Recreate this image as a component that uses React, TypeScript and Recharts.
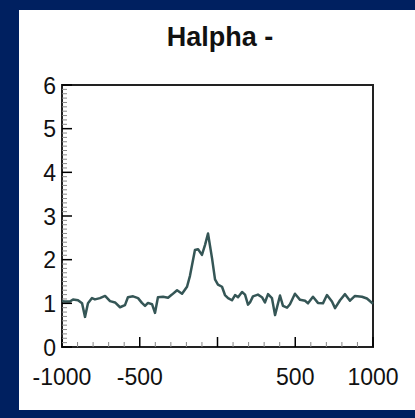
import React from 'react';
import { LineChart, Line, XAxis, YAxis, ReferenceArea } from 'recharts';

// velocity (km/s) and relative flux
const velocity = [
  -1000, -981, -949, -929, -897, -871, -852, -833, -807, -788, -756, -723, -691, -659, -627, -595,
  -576, -543, -511, -486, -466, -447, -421, -402, -383, -350, -318, -293, -260, -228, -196, -177,
  -145, -125, -100, -80, -61, -35, -16, 3, 29, 48, 68, 93, 113, 132, 158, 177, 196, 209, 228, 260,
  286, 305, 325, 350, 370, 402, 421, 447, 466, 498, 531, 563, 582, 614, 646, 678, 704, 736, 756,
  788, 820, 852, 884, 929, 961, 1000,
];
const flux = [
  1.05, 1.04, 1.04, 1.09, 1.07, 1.0, 0.69, 1.0, 1.12, 1.09, 1.12, 1.17, 1.05, 1.02, 0.91, 0.96,
  1.14, 1.16, 1.12, 1.01, 0.94, 1.01, 0.98, 0.78, 1.14, 1.15, 1.13, 1.2, 1.3, 1.22, 1.38, 1.63,
  2.22, 2.24, 2.11, 2.34, 2.6, 2.03, 1.55, 1.43, 1.38, 1.19, 1.12, 1.07, 1.19, 1.14, 1.26, 1.2,
  0.97, 1.02, 1.16, 1.2, 1.14, 1.02, 1.21, 1.12, 0.73, 1.18, 0.94, 0.9, 0.98, 1.22, 1.08, 1.06,
  1.0, 1.15, 1.01, 1.0, 1.19, 1.04, 0.89, 1.07, 1.21, 1.06, 1.17, 1.15, 1.11, 0.99,
];

const xTicks = Array.from({ length: 21 }, (_, i) => -1000 + i * 100);
const xLabels = [-1000, -500, 500, 1000];
const yTicks = Array.from({ length: 61 }, (_, i) => i / 10);
const yLabels = [0, 1, 2, 3, 4, 5, 6];

const rows = velocity.map((v, i) => ({ v, f: flux[i] }));

const font = '"Liberation Sans", Arial, sans-serif';

const XTick = (props: any) => {
  const { x, y, payload } = props;
  const val = payload.value;
  const major = val % 500 === 0;
  return (
    <g>
      <line x1={x} x2={x} y1={y} y2={y - (major ? 10 : 5)} stroke={major ? '#000' : '#888'} strokeWidth={major ? 1.5 : 1} />
      {xLabels.includes(val) && (
        <text x={x} y={y + 38} textAnchor="middle" fontSize={23} fontFamily={font} fill="#111">
          {val}
        </text>
      )}
    </g>
  );
};

const YTick = (props: any) => {
  const { x, y, payload } = props;
  const val = payload.value;
  const major = Math.abs(val - Math.round(val)) < 1e-6;
  return (
    <g>
      <line x1={x} x2={x + (major ? 10 : 5)} y1={y} y2={y} stroke={major ? '#000' : '#888'} strokeWidth={major ? 1.5 : 1} />
      {major && yLabels.includes(Math.round(val)) && (
        <text x={x - 6} y={y + 8.5} textAnchor="end" fontSize={23} fontFamily={font} fill="#111">
          {Math.round(val)}
        </text>
      )}
    </g>
  );
};

export default function App() {
  return (
    <div style={{ position: 'absolute', left: 0, top: 0, width: 415, height: 418, background: '#002060' }}>
      <div style={{ position: 'absolute', left: 19, top: 10, width: 396, height: 400, background: '#fff' }}>
        <div
          style={{
            position: 'absolute', left: 0, top: 14, width: 402, textAlign: 'center',
            fontFamily: font, fontWeight: 'bold', fontSize: 27, lineHeight: '27px', color: '#111',
          }}
        >
          Halpha -
        </div>
        <LineChart width={396} height={400} data={rows} margin={{ top: 75, right: 42, bottom: 0, left: 0 }}>
          <XAxis
            dataKey="v" type="number" domain={[-1000, 1000]} ticks={xTicks} interval={0}
            axisLine={false} tickLine={false} tickSize={0} tickMargin={0} height={63} tick={<XTick />}
          />
          <YAxis
            type="number" domain={[0, 6]} ticks={yTicks} interval={0}
            axisLine={false} tickLine={false} tickSize={0} tickMargin={0} width={43} tick={<YTick />}
          />
          <Line dataKey="f" type="linear" stroke="#355656" strokeWidth={2.5} strokeLinejoin="round" dot={false} isAnimationActive={false} />
          <ReferenceArea x1={-1000} x2={1000} y1={0} y2={6} fill="none" stroke="#222" strokeWidth={2} fillOpacity={0} />
        </LineChart>
      </div>
    </div>
  );
}
